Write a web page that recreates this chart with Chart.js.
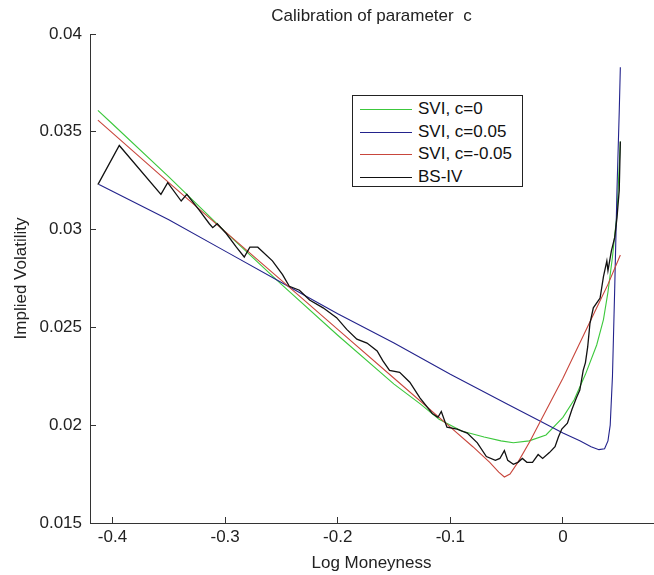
<!DOCTYPE html>
<html lang="en">
<head>
<meta charset="UTF-8">
<title>Calibration of parameter c</title>
<script src="https://cdn.jsdelivr.net/npm/chart.js"></script>
<style>
  body { margin: 0; background: #fff; }
  #wrap { position: relative; width: 654px; height: 575px; }
  #legend { position: absolute; left: 352px; top: 95px; width: 169px; height: 90px;
            border: 1px solid #222; background: #fff;
            font: 17px "Liberation Sans", Arial, sans-serif; color: #111; }
  .row { position: absolute; left: 0; height: 20px; line-height: 20px; white-space: nowrap; }
  .row .swatch { position: absolute; left: 7px; top: 10px; width: 52px; height: 0; border-top: 1px solid; }
  .row .lbl { position: absolute; left: 65px; top: 0; }
</style>
</head>
<body>
<div id="wrap">
  <canvas id="chart" width="654" height="575"></canvas>
  <div id="legend"></div>
</div>
<script>
// axis ticks
const xTicks = [-0.4, -0.3, -0.2, -0.1, 0];
const xTickLabels = ['-0.4', '-0.3', '-0.2', '-0.1', '0'];
const yTicks = [0.015, 0.02, 0.025, 0.03, 0.035, 0.04];
const yTickLabels = ['0.015', '0.02', '0.025', '0.03', '0.035', '0.04'];

const seriesNames = ['SVI, c=0', 'SVI, c=0.05', 'SVI, c=-0.05', 'BS-IV'];

// SVI, c=0
const greenX = [-0.413, -0.40, -0.35, -0.30, -0.25, -0.20, -0.15, -0.127, -0.11, -0.09, -0.07, -0.055, -0.044,
                -0.03, -0.015, 0, 0.01, 0.02, 0.03, 0.036, 0.04, 0.044, 0.048, 0.051];
const greenY = [0.0361, 0.0354, 0.0327, 0.0299, 0.0272, 0.0246, 0.0221, 0.0211, 0.0203, 0.0197, 0.0194, 0.0192, 0.0191,
                0.0192, 0.0195, 0.0204, 0.0213, 0.0226, 0.0241, 0.0254, 0.0268, 0.0286, 0.0308, 0.0345];

// SVI, c=0.05
const blueX = [-0.412, -0.35, -0.30, -0.25, -0.20, -0.15, -0.10, -0.05, -0.02, 0, 0.015, 0.025, 0.032,
               0.037, 0.040, 0.042, 0.044, 0.046, 0.048, 0.050, 0.051];
const blueY = [0.0323, 0.0305, 0.0289, 0.0273, 0.0257, 0.0242, 0.0226, 0.0211, 0.0202, 0.0196, 0.0192, 0.0189, 0.01875,
               0.0188, 0.0192, 0.0200, 0.0225, 0.0270, 0.0320, 0.0360, 0.0383];

// SVI, c=-0.05
const redX = [-0.413, -0.35, -0.30, -0.25, -0.20, -0.15, -0.10, -0.08, -0.065, -0.057, -0.052, -0.047, -0.04,
              -0.029, -0.02, -0.01, 0, 0.015, 0.03, 0.04, 0.051];
const redY = [0.0356, 0.0324, 0.0299, 0.0274, 0.0249, 0.0224, 0.0199, 0.0189, 0.0181, 0.0176, 0.01735, 0.0175, 0.0181,
              0.0192, 0.0202, 0.0213, 0.0224, 0.0242, 0.0260, 0.0272, 0.0287];

// BS-IV (market implied vol)
const bsX = [-0.413, -0.394, -0.357, -0.351, -0.339, -0.334, -0.323, -0.314, -0.311, -0.307, -0.299, -0.290, -0.283,
             -0.278, -0.271, -0.258, -0.249, -0.243, -0.234, -0.225, -0.213, -0.201, -0.192, -0.183, -0.174, -0.165,
             -0.160, -0.154, -0.145, -0.136, -0.127, -0.116, -0.111, -0.108, -0.103, -0.094, -0.085, -0.076, -0.068,
             -0.060, -0.056, -0.052, -0.049, -0.044, -0.040, -0.036, -0.032, -0.027, -0.022, -0.018, -0.012, -0.007,
             -0.004, -0.001, 0.004, 0.008, 0.012, 0.015, 0.018, 0.020, 0.022, 0.024, 0.027, 0.033, 0.036, 0.039,
             0.040, 0.043, 0.046, 0.048, 0.050, 0.051];
const bsY = [0.0323, 0.0343, 0.0318, 0.0324, 0.03146, 0.0318, 0.0310, 0.0303, 0.0301, 0.0303, 0.0298, 0.0291, 0.0286,
             0.0291, 0.0291, 0.0284, 0.0277, 0.0271, 0.0269, 0.0264, 0.0260, 0.0255, 0.0249, 0.0244, 0.0242, 0.0238,
             0.0233, 0.0228, 0.0227, 0.0222, 0.0214, 0.0206, 0.0204, 0.0207, 0.0199, 0.0198, 0.0196, 0.0191, 0.0184,
             0.0182, 0.0183, 0.0187, 0.0182, 0.0180, 0.0181, 0.0183, 0.0181, 0.0181, 0.0185, 0.0183, 0.0186, 0.0189,
             0.0194, 0.0198, 0.0201, 0.0208, 0.0214, 0.0218, 0.0228, 0.0232, 0.0240, 0.0252, 0.0260, 0.0265, 0.0276, 0.0284,
             0.0279, 0.0289, 0.0296, 0.0306, 0.0320, 0.0345];

const colors = ['#3cc83c', '#23238c', '#c8463c', '#111111'];
const xs = [greenX, blueX, redX, bsX];
const ys = [greenY, blueY, redY, bsY];

Chart.defaults.font.family = '"Liberation Sans", Arial, sans-serif';
Chart.defaults.font.size = 17;
Chart.defaults.color = '#222';

const datasets = seriesNames.map((name, i) => ({
    label: name,
    data: xs[i].map((x, j) => ({ x: x, y: ys[i][j] })),
    borderColor: colors[i],
    borderWidth: i === 3 ? 1.3 : 1.1,
    showLine: true,
    pointRadius: 0,
    tension: 0,
    order: 3 - i
}));

const axisColor = '#333';

new Chart(document.getElementById('chart'), {
    type: 'scatter',
    data: { datasets: datasets },
    options: {
        responsive: false,
        animation: false,
        layout: { padding: { left: 0, right: 1, top: 0, bottom: 0 } },
        plugins: {
            legend: { display: false },
            tooltip: { enabled: false },
            title: {
                display: true,
                text: 'Calibration of parameter  c',
                fullSize: false,
                font: { size: 17, weight: 'normal' },
                color: '#222',
                padding: { top: 6, bottom: 7.6 }
            }
        },
        scales: {
            x: {
                type: 'linear',
                min: -0.42,
                max: 0.08,
                afterBuildTicks: s => { s.ticks = xTicks.map(v => ({ value: v })); },
                afterFit: s => { s.height = 52; },
                ticks: { padding: 10, callback: (v, i) => xTickLabels[i], color: '#222' },
                grid: { drawOnChartArea: false, drawTicks: true, tickLength: -6, color: axisColor },
                border: { display: true, color: axisColor, width: 1 },
                title: { display: true, text: 'Log Moneyness', color: '#222', padding: { top: 0, bottom: 1 } }
            },
            y: {
                type: 'linear',
                min: 0.015,
                max: 0.04,
                afterBuildTicks: s => { s.ticks = yTicks.map(v => ({ value: v })); },
                afterFit: s => { s.width = 90; },
                ticks: { padding: 14, callback: (v, i) => yTickLabels[i], color: '#222' },
                grid: { drawOnChartArea: false, drawTicks: true, tickLength: -6, color: axisColor },
                border: { display: true, color: axisColor, width: 1 },
                title: { display: true, text: 'Implied Volatility', color: '#222', padding: { top: 11, bottom: 0 } }
            }
        }
    }
});

// legend box, MATLAB style
const legend = document.getElementById('legend');
seriesNames.forEach((name, i) => {
    const row = document.createElement('div');
    row.className = 'row';
    row.style.top = (3 + i * 22.7) + 'px';
    row.innerHTML = '<span class="swatch" style="border-color:' + colors[i] + '"></span><span class="lbl"></span>';
    row.querySelector('.lbl').textContent = name;
    legend.appendChild(row);
});
</script>
</body>
</html>
